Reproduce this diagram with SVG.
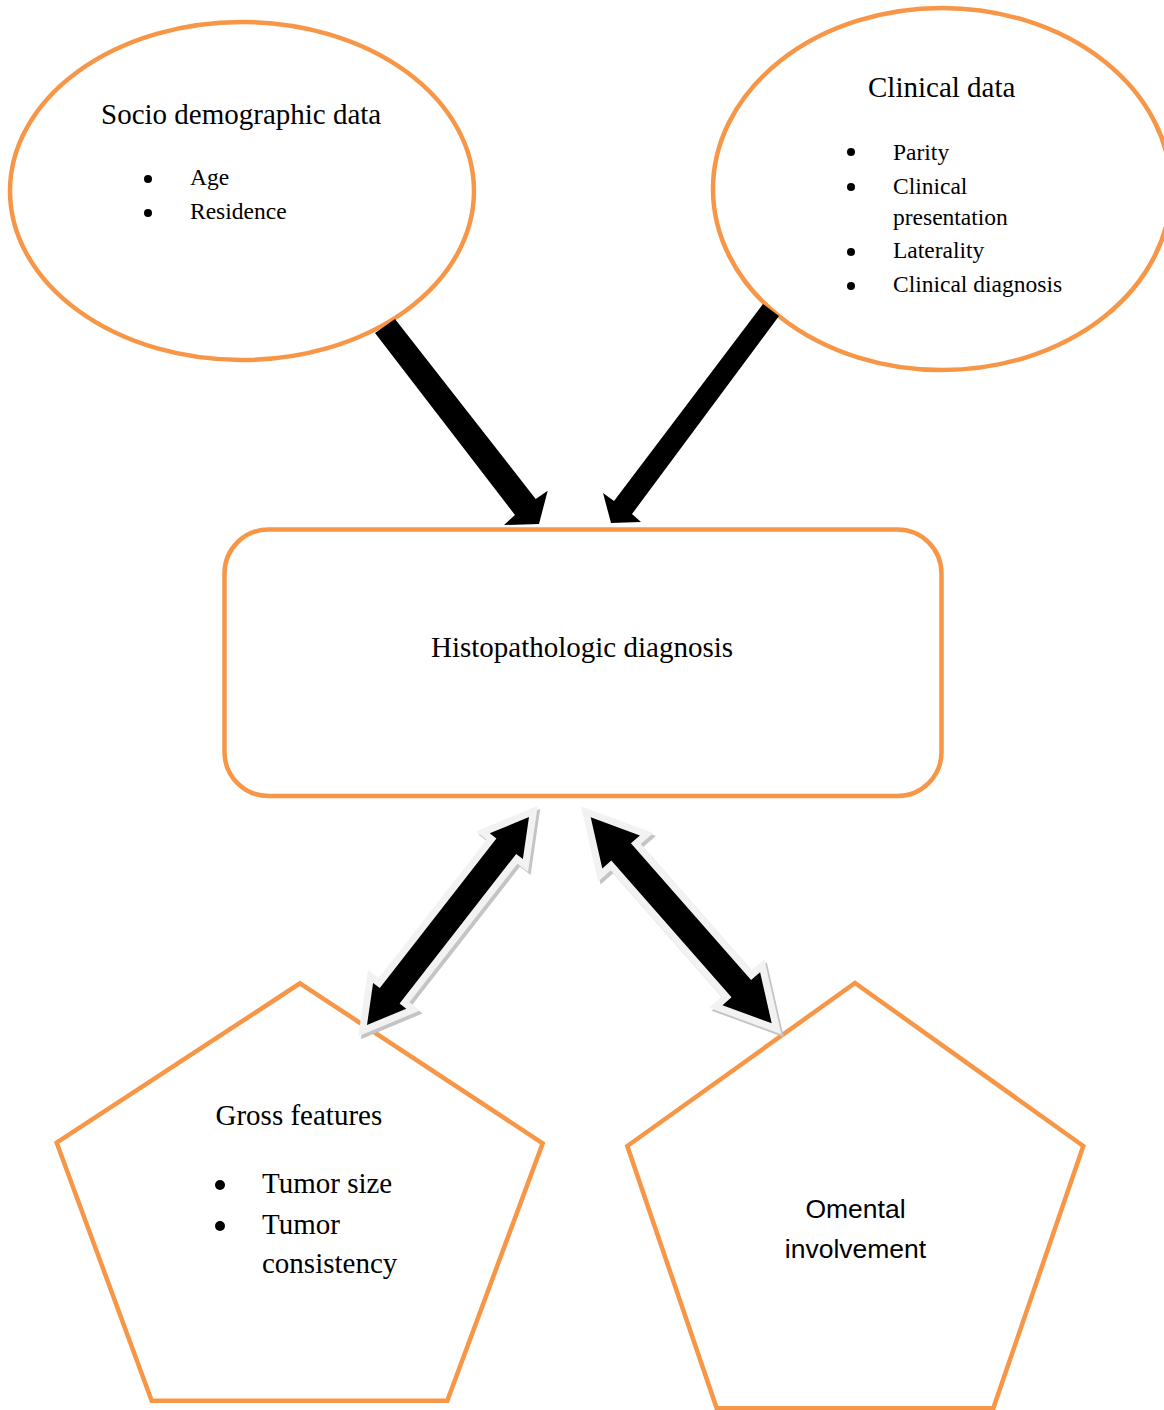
<svg xmlns="http://www.w3.org/2000/svg" xmlns:xlink="http://www.w3.org/1999/xlink" width="1164" height="1410" viewBox="0 0 1164 1410">
<defs>
<style>
.shape{fill:#ffffff;stroke:#F79646;stroke-width:4.5}
.serif{font-family:"Liberation Serif","Times New Roman",serif;fill:#000}
.h{font-size:29px}
.li{font-size:23.5px}
.lg{font-size:29px}
.sans{font-family:"Liberation Sans",Arial,sans-serif;font-size:26.5px;fill:#000}
.arrow{fill:#000}
.glow{fill:#F2F2F2;stroke:#F2F2F2;stroke-width:14;stroke-linejoin:miter}
.shadow{fill:#C4C4C4;stroke:#C4C4C4;stroke-width:14;stroke-linejoin:miter}
</style>
<polygon id="dblL" points="529,817 522.9,859.1 516.2,853.9 399.6,1003.5 406.3,1008.7 367,1025 373.1,982.9 379.8,988.1 496.4,838.5 489.7,833.3"/>
<polygon id="dblR" points="590.7,817.3 639.9,835.4 630.9,843.3 751.1,980.1 760.1,972.2 771.7,1023.3 722.5,1005.2 731.5,997.3 611.3,860.5 602.3,868.4"/>
</defs>
<rect width="1164" height="1410" fill="#ffffff"/>

<g id="socio">
<ellipse class="shape" cx="242" cy="191" rx="232" ry="169"/>
<text class="serif h" x="101" y="124">Socio demographic data</text>
<circle cx="148" cy="179" r="4"/>
<circle cx="148" cy="213" r="4"/>
<text class="serif li" x="190" y="185">Age</text>
<text class="serif li" x="190" y="219">Residence</text>
</g>

<g id="clinical">
<ellipse class="shape" cx="942" cy="189" rx="229" ry="181"/>
<text class="serif h" x="868" y="97">Clinical data</text>
<circle cx="851" cy="152" r="4"/>
<circle cx="851" cy="187" r="4"/>
<circle cx="851" cy="252" r="4"/>
<circle cx="851" cy="286" r="4"/>
<text class="serif li" x="893" y="160">Parity</text>
<text class="serif li" x="893" y="194">Clinical</text>
<text class="serif li" x="893" y="225">presentation</text>
<text class="serif li" x="893" y="258">Laterality</text>
<text class="serif li" x="893" y="292">Clinical diagnosis</text>
</g>

<g id="histo">
<rect class="shape" x="224.5" y="529.5" width="717" height="266.5" rx="44" ry="44"/>
<text class="serif h" x="582" y="657" text-anchor="middle">Histopathologic diagnosis</text>
</g>

<g id="gross">
<polygon class="shape" points="300,983.3 542.7,1143.3 447.3,1400.7 151.7,1400.7 56.7,1142.7"/>
<text class="serif lg" x="215.5" y="1125">Gross features</text>
<circle cx="220" cy="1185" r="5"/>
<circle cx="220" cy="1226" r="5"/>
<text class="serif lg" x="262" y="1193">Tumor size</text>
<text class="serif lg" x="262" y="1234">Tumor</text>
<text class="serif lg" x="262" y="1273">consistency</text>
</g>

<g id="omental">
<polygon class="shape" points="855,983 1083.3,1146 993.3,1408.3 716.7,1408.3 627.3,1146"/>
<text class="sans" x="855.5" y="1218" text-anchor="middle">Omental</text>
<text class="sans" x="855.5" y="1258" text-anchor="middle">involvement</text>
</g>

<g id="connectors">
<polygon class="arrow" points="395,319 535.7,499 547.7,490.7 539,524 504,525 515,515 375,333"/>
<polygon class="arrow" points="779,316 632,514 641,522 611,523 603,493 614,501 763,304"/>
<g id="dbl-left">
<use xlink:href="#dblL" class="shadow" transform="translate(2.5,3)"/>
<use xlink:href="#dblL" class="glow"/>
<use xlink:href="#dblL" class="arrow"/>
</g>
<g id="dbl-right">
<use xlink:href="#dblR" class="shadow" transform="translate(2.5,3)"/>
<use xlink:href="#dblR" class="glow"/>
<use xlink:href="#dblR" class="arrow"/>
</g>
</g>
</svg>
